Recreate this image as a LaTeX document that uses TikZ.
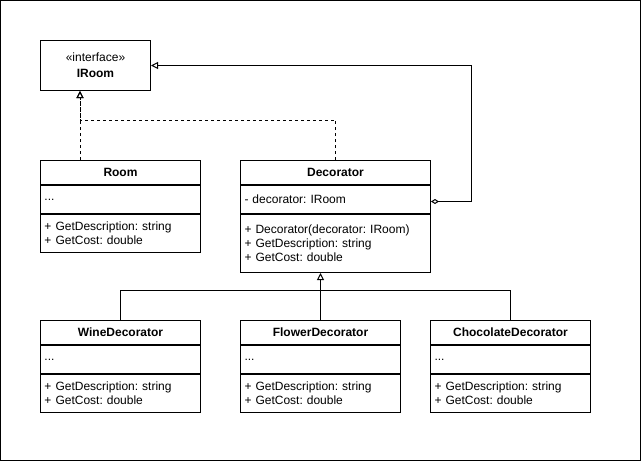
\documentclass[tikz,border=0pt]{standalone}
\usepackage{fontspec}
\setmainfont{Liberation Sans}
\usetikzlibrary{arrows.meta}
\frenchspacing

\begin{document}
\begin{tikzpicture}[x=1pt,y=-1pt,line width=1pt,font=\fontsize{12}{14}\selectfont,
  head/.style={draw,anchor=north west,inner sep=0pt,minimum height=24,font=\fontsize{12}{14}\selectfont\bfseries},
  part/.style={draw,anchor=north west,inner xsep=4,inner ysep=0pt,align=left},
  realize/.style={dash pattern=on 3pt off 3pt,-{Triangle[open,length=7,width=7]}},
  inherit/.style={-{Triangle[open,length=7,width=7]}},
  aggr/.style={{Diamond[open,length=8,width=5]}-{Triangle[open,length=7,width=7]}}]
\useasboundingbox (0,0) rectangle (641,461);
\draw (0.5,0.5) rectangle (640,460);
% interface
\node[draw,anchor=north west,minimum width=110,minimum height=50,inner sep=0pt,align=center,font=\fontsize{12}{16}\selectfont] (iroom) at (40,40) {«interface»\\\textbf{IRoom}};
% Room
\node[head,minimum width=160] (roomhead) at (40,160) {Room};
\node[part,text width=152,minimum height=28] (roomattr) at (roomhead.south west) {...};
\node[part,text width=152,minimum height=38] (roommeth) at (roomattr.south west) {+ GetDescription: string\\+ GetCost: double};
% Decorator
\node[head,minimum width=190] (dechead) at (240,160) {Decorator};
\node[part,text width=182,minimum height=28] (decattr) at (dechead.south west) {- decorator: IRoom};
\node[part,text width=182,minimum height=58] (decmeth) at (decattr.south west) {+ Decorator(decorator: IRoom)\\+ GetDescription: string\\+ GetCost: double};
% WineDecorator
\node[head,minimum width=160] (winehead) at (40,320) {WineDecorator};
\node[part,text width=152,minimum height=28] (wineattr) at (winehead.south west) {...};
\node[part,text width=152,minimum height=38] (winemeth) at (wineattr.south west) {+ GetDescription: string\\+ GetCost: double};
% FlowerDecorator
\node[head,minimum width=160] (flowerhead) at (240,320) {FlowerDecorator};
\node[part,text width=152,minimum height=28] (flowerattr) at (flowerhead.south west) {...};
\node[part,text width=152,minimum height=38] (flowermeth) at (flowerattr.south west) {+ GetDescription: string\\+ GetCost: double};
% ChocolateDecorator
\node[head,minimum width=160] (chochead) at (430,320) {ChocolateDecorator};
\node[part,text width=152,minimum height=28] (chocattr) at (chochead.south west) {...};
\node[part,text width=152,minimum height=38] (chocmeth) at (chocattr.south west) {+ GetDescription: string\\+ GetCost: double};
% connectors
\path (iroom.south west) ++(40,0) coordinate (irtip);
\draw[realize] (irtip |- roomhead.north) -- (irtip);
\draw[realize] (dechead.north) -- ++(0,-40) -| (irtip);
\draw[aggr] (decattr.east) ++(0,2) -- ++(40,0) |- (iroom.east);
\draw[inherit] (flowerhead.north) -- (flowerhead.north |- decmeth.south);
\draw (winehead.north) -- ++(0,-30) -| (chochead.north);
\end{tikzpicture}
\end{document}
